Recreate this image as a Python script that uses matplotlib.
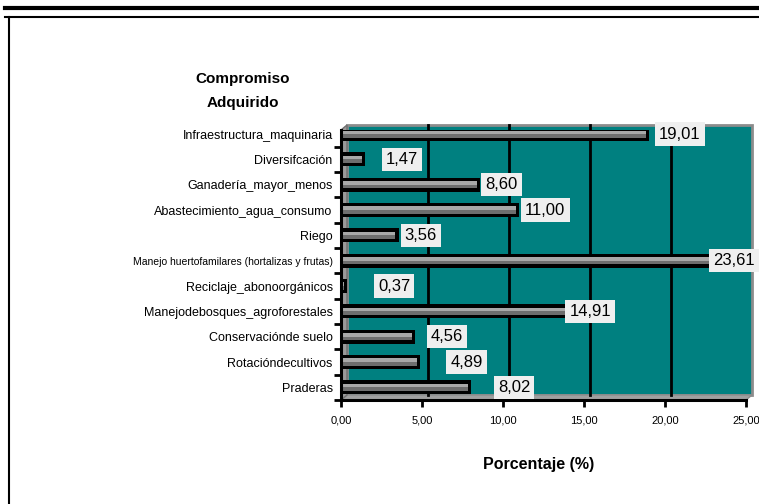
import matplotlib
matplotlib.use("Agg")
import matplotlib.pyplot as plt
from matplotlib.lines import Line2D
from matplotlib.patches import Polygon, Rectangle

plt.rcParams["font.family"] = ["Liberation Sans", "DejaVu Sans"]

# data, top to bottom as in the chart
categories = [
    "Infraestructura_maquinaria",
    "Diversifcación",
    "Ganadería_mayor_menos",
    "Abastecimiento_agua_consumo",
    "Riego",
    "Manejo huertofamilares (hortalizas y frutas)",
    "Reciclaje_abonoorgánicos",
    "Manejodebosques_agroforestales",
    "Conservaciónde suelo",
    "Rotacióndecultivos",
    "Praderas",
]
values = [19.01, 1.47, 8.60, 11.00, 3.56, 23.61, 0.37, 14.91, 4.56, 4.89, 8.02]
x_ticks = [0, 5, 10, 15, 20, 25]
x_ticklabels = ["0,00", "5,00", "10,00", "15,00", "20,00", "25,00"]
# horizontal shift of each value box, in pixels (Excel placed them unevenly)
label_nudge = [6, 17, 1, 2, 2, -14, 27, -17, 12, 26, 23]

W, H = 759, 504
TEAL = "#008080"
WALL = "#8c8c8c"

fig = plt.figure(figsize=(W / 100, H / 100), dpi=100)


def px_axes(left, top, right, bottom):
    return fig.add_axes([left / W, 1 - bottom / H, (right - left) / W, (bottom - top) / H])


ax = px_axes(341, 130, 746, 400)
ax.set_facecolor("none")
n = len(categories)
ypos = [n - 1 - i for i in range(n)]
ylo, yhi = -0.5, 10.16
ax.set_xlim(0, 25)
ax.set_ylim(ylo, yhi)

# pseudo-3D depth offset expressed in data units
dx = 6 / (405 / 25)
dy = 5 / (270 / (yhi - ylo))

# back wall, floor and side wall
ax.add_patch(Rectangle((dx, ylo + dy), 25, yhi - ylo, facecolor=TEAL, edgecolor=WALL,
                       lw=2, clip_on=False, zorder=0))
ax.add_patch(Polygon([(0, ylo), (25, ylo), (25 + dx, ylo + dy), (dx, ylo + dy)],
                     closed=True, facecolor="#a0a0a0", edgecolor=WALL, lw=1, clip_on=False, zorder=0.5))
ax.add_patch(Polygon([(0, ylo), (0, yhi), (dx, yhi + dy), (dx, ylo + dy)],
                     closed=True, facecolor="#9a9a9a", edgecolor="#707070", lw=1, clip_on=False, zorder=0.5))
for xv in x_ticks[1:-1]:
    ax.add_line(Line2D([xv + dx, xv + dx], [ylo + dy, yhi + dy], color="black", lw=2,
                       clip_on=False, zorder=0.8))

# cylinder-like bars: black body with two grey strips
ax.barh(ypos, values, height=0.55, color="black", zorder=2)
inner = [max(v - 0.35, 0.05) for v in values]
ax.barh([y + 0.07 for y in ypos], inner, left=0.15, height=0.14, color="#a8a8a8", zorder=3)
ax.barh([y - 0.07 for y in ypos], inner, left=0.15, height=0.14, color="#6e6e6e", zorder=3)

for v, y, nudge in zip(values, ypos, label_nudge):
    ax.annotate(f"{v:.2f}".replace(".", ","), xy=(v, y), xytext=(nudge + 4, 0),
                textcoords="offset pixels", ha="left", va="center", fontsize=12,
                bbox=dict(boxstyle="square,pad=0.25", fc="#efefef", ec="none"),
                zorder=5, annotation_clip=False)

# axes
for side in ("top", "right"):
    ax.spines[side].set_visible(False)
for side in ("left", "bottom"):
    ax.spines[side].set_linewidth(2.2)
    ax.spines[side].set_zorder(4)
ax.set_xticks(x_ticks)
ax.set_xticklabels(x_ticklabels, fontsize=8)
ax.tick_params(axis="x", direction="out", length=5, width=2, pad=6)
ax.set_yticks(ypos)
ax.set_yticklabels(categories, fontsize=9)
ax.set_yticks([y - 0.5 for y in range(n)], minor=True)
ax.tick_params(axis="y", which="major", length=0, pad=6)
ax.tick_params(axis="y", which="minor", direction="out", length=5, width=2)
for lab in ax.get_yticklabels():
    if lab.get_text().startswith("Manejo huerto"):
        lab.set_family(["Liberation Sans Narrow", "Liberation Sans", "DejaVu Sans"])
        lab.set_fontsize(7.5)

fig.text(243 / W, 1 - 91 / H, "Compromiso\nAdquirido", ha="center", va="center",
         fontsize=11, fontweight="bold", linespacing=1.85)
fig.text(539 / W, 1 - 465 / H, "Porcentaje (%)", ha="center", va="center",
         fontsize=11.5, fontweight="bold")

# page frame
fig.add_artist(Line2D([5 / W, 1], [1 - 8 / H, 1 - 8 / H], color="black", lw=3))
fig.add_artist(Line2D([5 / W, 1], [1 - 17 / H, 1 - 17 / H], color="black", lw=1.5))
fig.add_artist(Line2D([9 / W, 9 / W], [1 - 17 / H, 0], color="black", lw=1.5))

fig.savefig("out.png", dpi=100)
